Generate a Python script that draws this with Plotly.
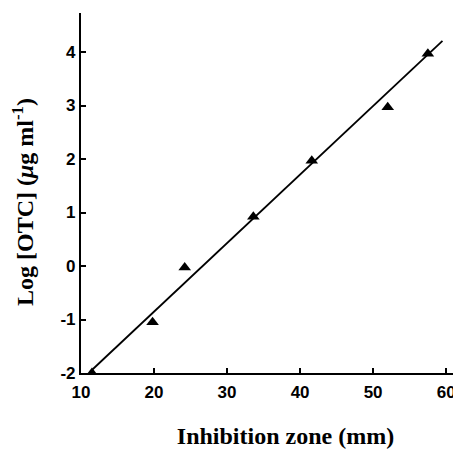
import plotly.graph_objects as go

# data
zone_mm = [11.5, 19.8, 24.2, 33.6, 41.6, 52.0, 57.5]
log_otc = [-2.0, -1.05, -0.03, 0.92, 1.97, 2.97, 3.97]

fit_x = [11.6, 59.5]
fit_y = [-1.93, 4.21]

x_ticks = [10, 20, 30, 40, 50, 60]
x_tick_text = ["10", "20", "30", "40", "50", "60"]
y_ticks = [-2, -1, 0, 1, 2, 3, 4]
y_tick_text = ["-2", "-1", "0", "1", "2", "3", "4"]

fig = go.Figure()
fig.add_trace(go.Scatter(x=fit_x, y=fit_y, mode="lines",
                         line=dict(color="black", width=1.8),
                         showlegend=False, hoverinfo="skip"))
fig.add_trace(go.Scatter(x=zone_mm, y=log_otc, mode="markers",
                         marker=dict(symbol="triangle-up", size=11, color="black"),
                         showlegend=False))

tick_font = dict(family="Liberation Sans, Arial, sans-serif", size=17, color="black", weight="bold")
x_title_font = dict(family="Liberation Serif, Times New Roman, serif", size=24, color="black", weight="bold")
y_title_font = dict(family="Liberation Serif, Times New Roman, serif", size=24, color="black", weight="bold")

# page body has an 8px margin, so the figure is sized to fit the 461x449 window
fig.update_layout(
    width=453, height=441,
    margin=dict(l=73, r=1, t=5, b=76, autoexpand=False),
    paper_bgcolor="white", plot_bgcolor="white",
    xaxis=dict(range=[10, 61.9], tickvals=x_ticks, ticktext=x_tick_text,
               showline=True, linecolor="black", linewidth=2.2,
               ticks="inside", ticklen=5, tickwidth=1.5, tickcolor="black",
               showgrid=False, zeroline=False, tickfont=tick_font, automargin=False,
               ticklabelstandoff=2,
               title=dict(text="&nbsp;&nbsp;&nbsp;&nbsp;&nbsp;Inhibition zone (mm)",
                          font=x_title_font, standoff=30)),
    yaxis=dict(range=[-2, 4.73], tickvals=y_ticks, ticktext=y_tick_text,
               showline=True, linecolor="black", linewidth=2.2,
               ticks="inside", ticklen=5, tickwidth=1.5, tickcolor="black",
               showgrid=False, zeroline=False, tickfont=tick_font, automargin=False,
               title=dict(text="Log [OTC] (<i>μ</i>g ml<sup>-1</sup>)&nbsp;&nbsp;&nbsp;",
                          font=y_title_font, standoff=22)),
)

fig.write_html("out.html")
